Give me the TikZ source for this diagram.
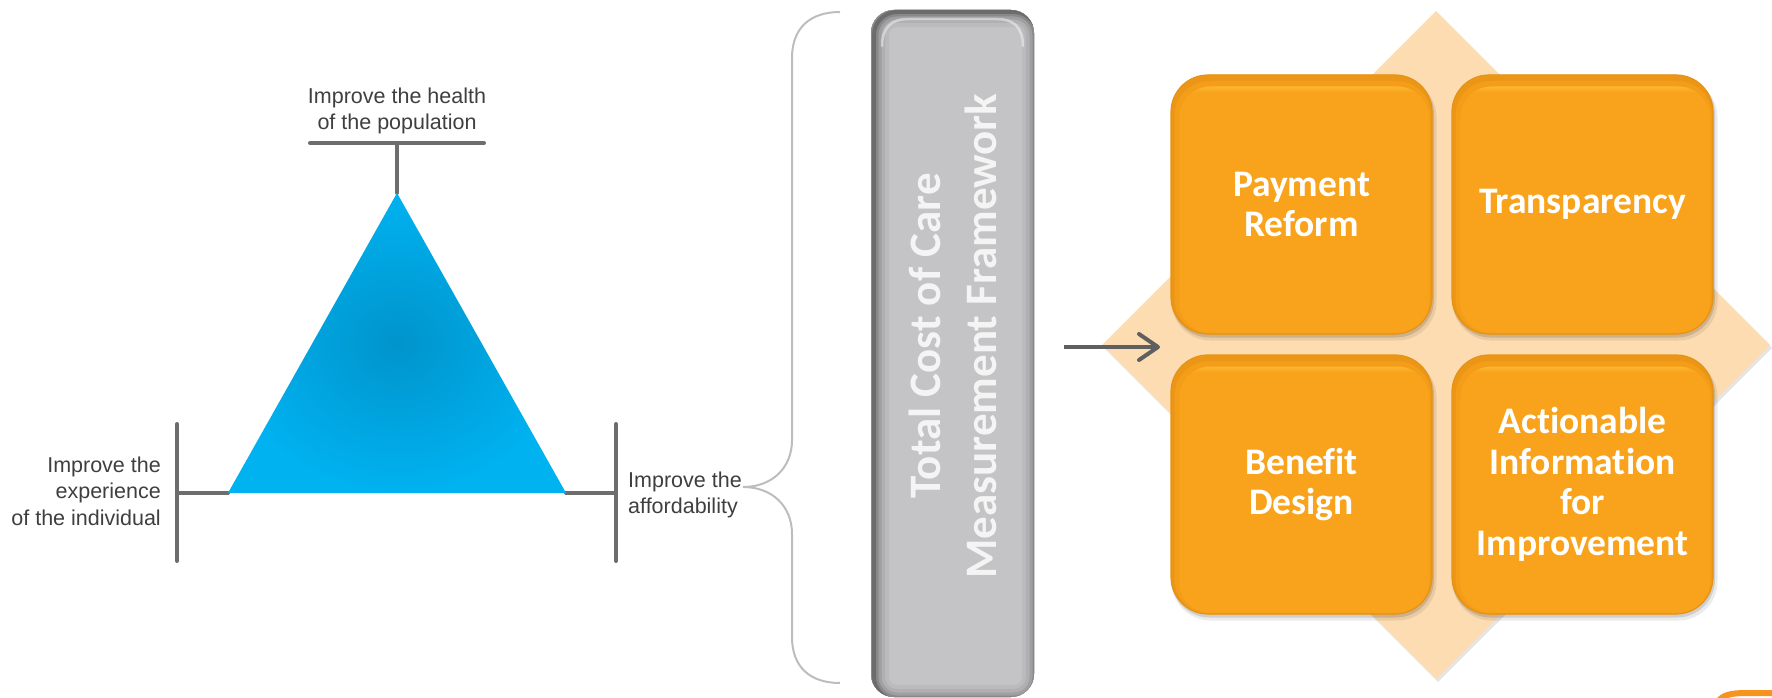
\documentclass[tikz,border=0pt]{standalone}
\usepackage{fontspec}
\setmainfont{Liberation Sans}
\newfontfamily\carlito[Ligatures=NoCommon]{Carlito}
\usetikzlibrary{arrows.meta}

\definecolor{skyA}{HTML}{0094CC}
\definecolor{skyB}{HTML}{00B2F0}
\definecolor{barclr}{HTML}{6D6D6D}
\definecolor{txt}{HTML}{3F3F3F}
\definecolor{bracec}{HTML}{BDBDBD}
\definecolor{gmain}{HTML}{C4C4C6}
\definecolor{gdark}{HTML}{4A4A4A}
\definecolor{gtext}{HTML}{F4F4F4}
\definecolor{peach}{HTML}{FDDCB1}
\definecolor{omain}{HTML}{F9A21B}
\definecolor{otop}{HTML}{FFD24C}
\definecolor{oedge}{HTML}{D9870F}
\definecolor{arrowc}{HTML}{5F5F5F}
\definecolor{ostroke}{HTML}{F7941D}

\tikzset{
  lbl/.style={font=\fontsize{21.5}{26.5}\selectfont, text=txt, inner sep=0pt},
  bar/.style={barclr, line width=4pt, line cap=round},
  graytext/.style={font=\carlito\bfseries\fontsize{45}{56}\selectfont, text=gtext, align=center, inner sep=0pt},
  tiletext/.style={font=\carlito\bfseries\fontsize{37.5}{40.5}\selectfont, text=white, align=center, inner sep=0pt},
}

\begin{document}
\begin{tikzpicture}[x=1pt,y=-1pt]
\useasboundingbox (0,0) rectangle (1772,698);

% ---------- triangle of aims ----------
\coordinate (apex) at (397,193);
\coordinate (bl) at (228,493);
\coordinate (br) at (566,493);
\coordinate (topL) at (310,143);
\coordinate (topR) at (484,143);
\coordinate (topM) at (397,143);
\coordinate (leftT) at (177,424);
\coordinate (leftB) at (177,561);
\coordinate (leftM) at (177,493);
\coordinate (rightT) at (616,424);
\coordinate (rightB) at (616,561);
\coordinate (rightM) at (616,493);

\draw[bar] (topL) -- (topR);
\draw[bar] (topM) -- (apex);
\draw[bar] (leftT) -- (leftB);
\draw[bar] (leftM) -- (bl);
\draw[bar] (rightT) -- (rightB);
\draw[bar] (rightM) -- (br);

\shade[inner color=skyA, outer color=skyB] (apex) -- (br) -- (bl) -- cycle;

\node[lbl, anchor=north, align=center] (health) at (397,87.5) {Improve the health\\of the population};
\node[lbl, anchor=north east, align=right] (experience) at (161,456.5) {Improve the\\experience\\of the individual};
\node[lbl, anchor=north west, align=left] (afford) at (628,471.5) {Improve the\\affordability};

% ---------- brace ----------
\draw[bracec, line width=2pt] (840,12) .. controls (810,12) and (792,28) .. (792,58)
  -- (792,440) .. controls (792,468) and (772,487) .. (743,487)
  .. controls (772,487) and (792,506) .. (792,534)
  -- (792,637) .. controls (792,667) and (810,683) .. (840,683);

% ---------- grey framework bar ----------
\fill[gdark, rounded corners=23pt] (871,10) rectangle (1034,697);
\begin{scope}
  \clip[rounded corners=23pt] (871,10) rectangle (1034,697);
  \fill[gmain] (871,10) rectangle (1034,697);
  \foreach \w/\c in {30/93, 22/84, 15/70, 9/52, 4/28} {
    \draw[gmain!\c!gdark, line width=\w pt, rounded corners=23pt] (874,12) rectangle (1037,700);
  }
\end{scope}
\draw[white, opacity=.45, line width=2.5pt, line cap=round]
  (882,46) .. controls (882,28) and (891,19) .. (908,19) -- (997,19)
  .. controls (1014,19) and (1023,28) .. (1023,46);
\node[graytext, rotate=90] (tcoc) at (952.5,336) {Total Cost of Care\\Measurement Framework};

% ---------- diamond with four tiles ----------
\fill[black, opacity=.10] (1438,14) -- (1772,348) -- (1438,682) -- (1104,348) -- cycle;
\fill[peach] (1436,11) -- (1770,345) -- (1436,679) -- (1102,345) -- cycle;

\foreach \cx/\cy in {1301.5/204.5, 1582.5/204.5, 1301.5/484.5, 1582.5/484.5} {
  \fill[black, opacity=.08, rounded corners=39pt] (\cx-130,\cy-126) rectangle (\cx+135,\cy+136);
  \fill[black, opacity=.12, rounded corners=38pt] (\cx-130,\cy-128) rectangle (\cx+132.5,\cy+133);
  \begin{scope}
    \clip[rounded corners=37pt] (\cx-130.5,\cy-129.5) rectangle (\cx+130.5,\cy+129.5);
    \fill[omain] (\cx-131,\cy-130) rectangle (\cx+131,\cy+130);
    \shade[top color=otop, bottom color=omain] (\cx-131,\cy-126) rectangle (\cx+131,\cy-112);
    \fill[omain!60!otop] (\cx-131,\cy-130) rectangle (\cx+131,\cy-126);
    \draw[omain!80!oedge, line width=12pt, rounded corners=37pt] (\cx-128.5,\cy-124) rectangle (\cx+133.5,\cy+134.5);
    \draw[omain!55!oedge, line width=5pt, rounded corners=37pt] (\cx-129.5,\cy-126) rectangle (\cx+132,\cy+132);
  \end{scope}
  \draw[oedge!60!omain, line width=1.2pt, rounded corners=37pt] (\cx-130.5,\cy-129.5) rectangle (\cx+130.5,\cy+129.5);
}

\node[tiletext] (payment) at (1301.5,204.5) {Payment\\Reform};
\node[tiletext] (transparency) at (1582.5,204.5) {Transparency};
\node[tiletext] (benefit) at (1301.5,484.5) {Benefit\\Design};
\node[tiletext] (actionable) at (1582.5,484.5) {Actionable\\Information\\for\\Improvement};

% ---------- arrow into the diamond ----------
\coordinate (arrowtail) at (1064,347);
\coordinate (arrowhead) at (1160,347);
\draw[arrowc, line width=4pt, -{Straight Barb[length=19pt, width=26pt, round]}] (arrowtail) -- (arrowhead);

% ---------- corner tab ----------
\draw[ostroke, line width=6pt] (1718,702) .. controls (1722,695) and (1731,693) .. (1746,693) -- (1776,693);

\end{tikzpicture}
\end{document}
